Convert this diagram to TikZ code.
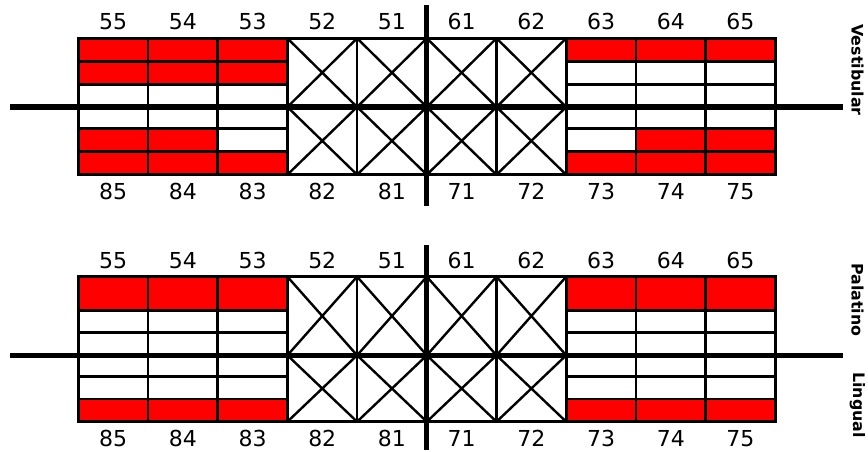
\documentclass[tikz,border=0pt]{standalone}
\usepackage{fontspec}
\setmainfont{DejaVu Sans}
\definecolor{CariesRed}{RGB}{255,0,0}

\begin{document}
\begin{tikzpicture}[x=1pt,y=-1pt,
      cell/.style={draw=black,line width=2.6pt,line cap=rect},
      cross/.style={draw=black,line width=2.4pt},
      midline/.style={draw=black,line width=5.5pt},
      tooth/.style={font=\fontsize{22}{22}\selectfont,inner sep=0pt,anchor=base},
      surface/.style={font=\fontsize{15.8}{16}\selectfont\bfseries,rotate=-90,inner sep=0pt}]
    \useasboundingbox (0,0) rectangle (868,452);
    % upper chart
    \fill[CariesRed] (78.3,38.3) rectangle (287.4,84.7);
    \fill[CariesRed] (566.2,38.3) rectangle (775.3,61.7);
    \fill[CariesRed] (78.3,128.3) rectangle (217.7,174.7);
    \fill[CariesRed] (217.7,151.3) rectangle (287.4,174.7);
    \fill[CariesRed] (566.2,151.3) rectangle (635.9,174.7);
    \fill[CariesRed] (635.9,128.3) rectangle (775.3,174.7);
    \foreach \y in {61.7,84.7,128.3,151.3} {
      \draw[cell] (78.3,\y) -- (287.4,\y);
      \draw[cell] (566.2,\y) -- (775.3,\y);
    }
    \draw[cell] (78.3,38.3) -- (775.3,38.3);
    \draw[cell] (78.3,174.7) -- (775.3,174.7);
    \foreach \k in {0,...,10}
      \draw[cell] ({78.3+69.7*\k},38.3) -- ({78.3+69.7*\k},174.7);
    \foreach \k in {3,...,6} {
      \draw[cross] ({78.3+69.7*\k},38.3) -- ({148+69.7*\k},107) ({78.3+69.7*\k},107) -- ({148+69.7*\k},38.3);
      \draw[cross] ({78.3+69.7*\k},107) -- ({148+69.7*\k},174.7) ({78.3+69.7*\k},174.7) -- ({148+69.7*\k},107);
    }
    \draw[midline] (10,107) -- (843,107);
    \draw[midline] (426.5,5) -- (426.5,206);
    \foreach \k/\lab in {0/55,1/54,2/53,3/52,4/51,5/61,6/62,7/63,8/64,9/65}
      \node[tooth] (a\lab) at ({113.15+69.7*\k},30) {\lab};
    \foreach \k/\lab in {0/85,1/84,2/83,3/82,4/81,5/71,6/72,7/73,8/74,9/75}
      \node[tooth] (a\lab) at ({113.15+69.7*\k},199) {\lab};
    \node[surface] (vest) at (857.5,70) {Vestibular};
    % lower chart
    \fill[CariesRed] (78.3,276.7) rectangle (287.4,310.3);
    \fill[CariesRed] (566.2,276.7) rectangle (775.3,310.3);
    \fill[CariesRed] (78.3,399) rectangle (287.4,421.7);
    \fill[CariesRed] (566.2,399) rectangle (775.3,421.7);
    \foreach \y in {310.3,332.7,376.7,399} {
      \draw[cell] (78.3,\y) -- (287.4,\y);
      \draw[cell] (566.2,\y) -- (775.3,\y);
    }
    \draw[cell] (78.3,276.7) -- (775.3,276.7);
    \draw[cell] (78.3,421.7) -- (775.3,421.7);
    \foreach \k in {0,...,10}
      \draw[cell] ({78.3+69.7*\k},276.7) -- ({78.3+69.7*\k},421.7);
    \foreach \k in {3,...,6} {
      \draw[cross] ({78.3+69.7*\k},276.7) -- ({148+69.7*\k},355.3) ({78.3+69.7*\k},355.3) -- ({148+69.7*\k},276.7);
      \draw[cross] ({78.3+69.7*\k},355.3) -- ({148+69.7*\k},421.7) ({78.3+69.7*\k},421.7) -- ({148+69.7*\k},355.3);
    }
    \draw[midline] (10,355.3) -- (843,355.3);
    \draw[midline] (426.5,245) -- (426.5,450);
    \foreach \k/\lab in {0/55,1/54,2/53,3/52,4/51,5/61,6/62,7/63,8/64,9/65}
      \node[tooth] (b\lab) at ({113.15+69.7*\k},268.5) {\lab};
    \foreach \k/\lab in {0/85,1/84,2/83,3/82,4/81,5/71,6/72,7/73,8/74,9/75}
      \node[tooth] (b\lab) at ({113.15+69.7*\k},446) {\lab};
    \node[surface] (pal) at (857.5,300) {Palatino};
    \node[surface] (ling) at (857.5,405) {Lingual};
  \end{tikzpicture}
\end{document}
